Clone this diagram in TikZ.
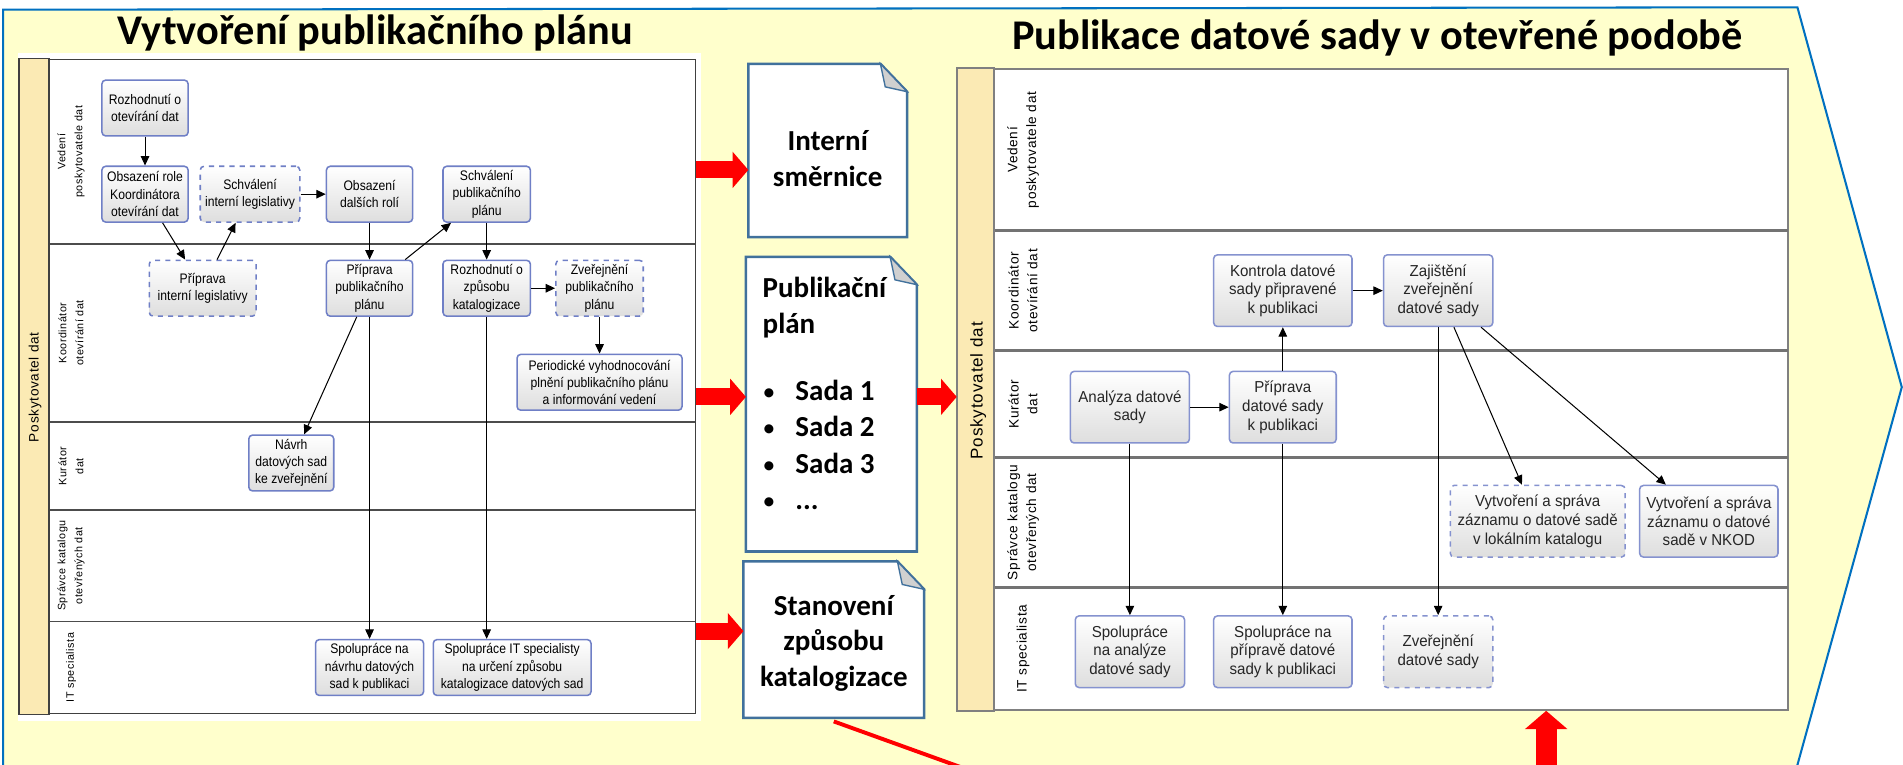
\documentclass[tikz,border=0pt]{standalone}
\usepackage{fontspec}
\setmainfont{Carlito}
\newfontfamily\taskfont[FakeStretch=0.88]{Liberation Sans}
\newfontfamily\scanfont[FakeStretch=0.95]{Liberation Sans}
\newfontfamily\lanefont[LetterSpace=5]{Liberation Sans}
\usetikzlibrary{arrows.meta}
\newdimen\upx \upx=0.025cm
\newcommand{\planitem}{\makebox[27\upx][l]{\mdseries\fontsize{15}{15}\selectfont •}}
\definecolor{cyellow}{HTML}{FFFFCC}
\definecolor{cframe}{HTML}{0070C0}
\definecolor{cdoc}{HTML}{41719C}
\definecolor{cpool}{HTML}{FBEAB4}
\definecolor{ctask}{HTML}{6F7FC6}
\definecolor{cfold}{HTML}{D0D0D0}
\tikzset{
  every picture/.style={line width=0.6pt},
  task/.style={draw=ctask, line width=0.9pt, rounded corners=2.2pt, top color=white, bottom color=black!13,
    align=center, inner sep=1pt, minimum width=#1\upx, minimum height=46\upx, font=\taskfont\fontsize{8.1}{10.1}\selectfont},
  task/.default=71,
  rtask/.style={task=#1, minimum height=59\upx, draw=ctask!85, font=\scanfont\fontsize{9.3}{10.95}\selectfont, text=black!85},
  flow/.style={-{Triangle[length=5.5pt,width=5pt]}, draw=black, line width=0.6pt},
  lane/.style={rotate=90, align=center, font=\lanefont\fontsize{6.3}{10}\selectfont},
  pool/.style={draw=black!75, line width=1pt, fill=white, inner sep=0pt},
  laneline/.style={draw=black!70, line width=1pt},
  title/.style={font=\bfseries\fontsize{24.8}{28}\selectfont},
  doc/.style={fill=white, minimum width=#1\upx, align=center, inner sep=0pt, font=\bfseries\fontsize{17}{20.8}\selectfont},
  docline/.style={draw=cdoc, line width=1.5pt, line join=miter},
  fold/.style={fill=cfold, draw=cdoc, line width=0.8pt},
  redarr/.style={draw=red, line width=10pt, -{Triangle[length=9.2pt,width=21.3pt,line width=0pt]}},
}
\begin{document}
\begin{tikzpicture}[x=0.025cm, y=-0.025cm]
  \useasboundingbox (0,0) rectangle (1568,630);
  \clip (0,0) rectangle (1568,630);
  % frame
  \filldraw[fill=cyellow, draw=cframe, line width=1.2pt] (2.5,660) -- (2.5,8) -- (1481,6) -- (1567,319) -- (1472.8,660) -- cycle;
  \node[title] (t1) at (309,27) {Vytvoření publikačního plánu};
  \node[title] (t2) at (1135,31) {Publikace datové sady v otevřené podobě};

  % left diagram: pool and lanes
  \fill[white] (15,44) rectangle (578,594);
  \node[pool, minimum width=556.5\upx, minimum height=539\upx] (lpool) at (294.75,318.5) {};
  \filldraw[fill=cpool, draw=black!75, line width=1pt] (lpool.north west) rectangle ([xshift=24.5\upx]lpool.south west);
  \foreach \y in {201,348,420,512} \draw[laneline] (41,\y) -- (573,\y);
  \node[lane, font=\lanefont\fontsize{8}{10}\selectfont] (lpname) at (29,319) {Poskytovatel dat};
  \node[lane] (lvA) at (58.5,125) {Vedení\\poskytovatele dat};
  \node[lane] (lkA) at (58.5,274.5) {Koordinátor\\otevírání dat};
  \node[lane] (lcA) at (58.5,384) {Kurátor\\dat};
  \node[lane] (lsA) at (58.5,466) {Správce katalogu\\otevřených dat};
  \node[lane] (liA) at (58.5,550) {IT specialista};
  % left tasks
  \node[task=71] (rozh) at (119.5,89) {Rozhodnutí o\\otevírání dat};
  \node[task=71] (obsRole) at (119.5,160) {Obsazení role\\Koordinátora\\otevírání dat};
  \node[task=82, dashed] (schvLeg) at (206,160) {Schválení\\interní legislativy};
  \node[task=71] (obsDal) at (304.5,160) {Obsazení\\dalších rolí};
  \node[task=72] (schvPlan) at (401,160) {Schválení\\publikačního\\plánu};
  \node[task=88, dashed] (pripLeg) at (167,237.5) {Příprava\\interní legislativy};
  \node[task=71] (pripPlan) at (304.5,237.5) {Příprava\\publikačního\\plánu};
  \node[task=72] (rozhKat) at (401,237.5) {Rozhodnutí o\\způsobu\\katalogizace};
  \node[task=72, dashed] (zverPlan) at (494,237.5) {Zveřejnění\\publikačního\\plánu};
  \node[task=136] (period) at (494,315) {Periodické vyhodnocování\\plnění publikačního plánu\\a informování vedení};
  \node[task=70] (navrh) at (240,381.5) {Návrh\\datových sad\\ke zveřejnění};
  \node[task=89] (spolNavrh) at (304.5,550) {Spolupráce na\\návrhu datových\\sad k publikaci};
  \node[task=130] (spolIT) at (422,550) {Spolupráce IT specialisty\\na určení způsobu\\katalogizace datových sad};
  \draw[flow] (rozh) -- (obsRole);
  \draw[flow] (obsRole) -- (pripLeg);
  \draw[flow] (pripLeg) -- (schvLeg);
  \draw[flow] (schvLeg) -- (obsDal);
  \draw[flow] (obsDal) -- (pripPlan);
  \draw[flow] (pripPlan) -- (schvPlan);
  \draw[flow] (schvPlan) -- (rozhKat);
  \draw[flow] (rozhKat) -- (zverPlan);
  \draw[flow] (zverPlan) -- (period);
  \draw[flow] (pripPlan) -- (navrh);
  \draw[flow] (pripPlan) -- (spolNavrh);
  \draw[flow] (rozhKat.south) -- (rozhKat.south |- spolIT.north);

  % right diagram: pool and lanes
  \node[pool, draw=black!50, minimum width=684\upx, minimum height=528\upx] (rpool) at (1131,321) {};
  \filldraw[fill=cpool, draw=black!50, line width=1pt] (rpool.north west) rectangle ([xshift=31\upx]rpool.south west);
  \foreach \y in {190,289,377,484} \draw[laneline, draw=black!55, line width=1.6pt] (820,\y) -- (1473,\y);
  \node[lane, font=\lanefont\fontsize{10}{12}\selectfont] (rpname) at (806,322) {Poskytovatel dat};
  \node[lane, font=\lanefont\fontsize{8}{11}\selectfont] (rvA) at (843,123.5) {Vedení\\poskytovatele dat};
  \node[lane, font=\lanefont\fontsize{8}{11}\selectfont] (rkA) at (843,239.5) {Koordinátor\\otevírání dat};
  \node[lane, font=\lanefont\fontsize{8}{11}\selectfont] (rcA) at (843,333) {Kurátor\\dat};
  \node[lane, font=\lanefont\fontsize{8}{11}\selectfont] (rsA) at (843,430.5) {Správce katalogu\\otevřených dat};
  \node[lane, font=\lanefont\fontsize{8}{11}\selectfont] (riA) at (843,534.5) {IT specialista};
  % right tasks
  \node[rtask=114] (kontrola) at (1057,239.5) {Kontrola datové\\sady připravené\\k publikaci};
  \node[rtask=90] (zajist) at (1185,239.5) {Zajištění\\zveřejnění\\datové sady};
  \node[rtask=98] (analyza) at (931,335.5) {Analýza datové\\sady};
  \node[rtask=88] (pripDS) at (1057,335.5) {Příprava\\datové sady\\k publikaci};
  \node[rtask=144, dashed] (vytvLok) at (1267,429.5) {Vytvoření a správa\\záznamu o datové sadě\\v lokálním katalogu};
  \node[rtask=114] (vytvNKOD) at (1408,429.5) {Vytvoření a správa\\záznamu o datové\\sadě v NKOD};
  \node[rtask=90] (spolAn) at (931,537) {Spolupráce\\na analýze\\datové sady};
  \node[rtask=114] (spolPrip) at (1057,537) {Spolupráce na\\přípravě datové\\sady k publikaci};
  \node[rtask=90, dashed] (zverDS) at (1185,537) {Zveřejnění\\datové sady};
  \draw[flow] (analyza) -- (pripDS);
  \draw[flow] (pripDS) -- (kontrola);
  \draw[flow] (kontrola) -- (zajist);
  \draw[flow] (zajist) -- (zverDS);
  \draw[flow] (zajist) -- (vytvLok);
  \draw[flow] (zajist) -- (vytvNKOD);
  \draw[flow] (analyza) -- (spolAn);
  \draw[flow] (pripDS) -- (spolPrip);

  % documents
  \node[doc=130, minimum height=142\upx] (doc1) at (682,124) {\rule{0pt}{21pt}Interní\\směrnice};
  \node[doc=140, minimum height=242\upx] (doc2) at (685,333) {};
  \node[doc=148, minimum height=128\upx] (doc3) at (687,527) {\rule{0pt}{16pt}Stanovení\\způsobu\\katalogizace};
  \foreach \d in {doc1,doc2,doc3} {
    \fill[cyellow] ([xshift=-22\upx]\d.north east) -- (\d.north east) -- ([yshift=-23\upx]\d.north east) -- cycle;
    \draw[docline] (\d.south west) -- (\d.north west) -- ([xshift=-22\upx]\d.north east) -- ([yshift=-23\upx]\d.north east) -- (\d.south east) -- cycle;
    \filldraw[fold] ([xshift=-22\upx]\d.north east) -- ([xshift=-18\upx,yshift=-19\upx]\d.north east) -- ([yshift=-23\upx]\d.north east) -- cycle;
  }
  \node[anchor=north west, align=left, inner sep=0pt, font=\bfseries\fontsize{17}{21.3}\selectfont] (plan) at (628,228)
    {Publikační\\plán\\[25\upx]\planitem Sada 1\\\planitem Sada 2\\\planitem Sada 3\\\planitem ...};

  % red arrows
  \coordinate (in1) at ([yshift=-16\upx]doc1.west);
  \coordinate (in2) at ([yshift=6\upx]doc2.west);
  \coordinate (out2) at ([yshift=6\upx]doc2.east);
  \coordinate (in3) at ([yshift=7\upx]doc3.west);
  \coordinate (upfoot) at (1274,660);
  \coordinate (catfoot) at (869,660);
  \draw[redarr] (lpool.east |- in1) -- (in1);
  \draw[redarr] (lpool.east |- in2) -- (in2);
  \draw[redarr] (out2) -- (rpool.west |- out2);
  \draw[redarr] (lpool.east |- in3) -- (in3);
  \draw[redarr, line width=12.1pt, -{Triangle[length=10.7pt,width=24.9pt,line width=0pt]}] (upfoot) -- (upfoot |- rpool.south);
  \draw[red, line width=2.3pt] ([yshift=-3\upx]doc3.south) -- (catfoot);
\end{tikzpicture}
\end{document}
